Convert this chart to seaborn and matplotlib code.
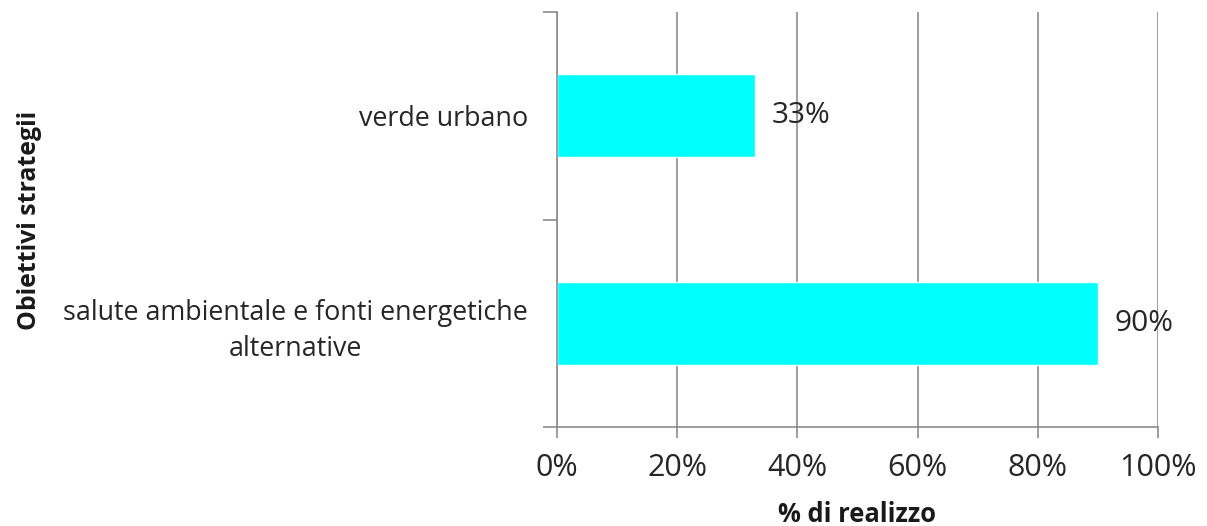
import matplotlib
matplotlib.use("Agg")
import matplotlib.pyplot as plt
from matplotlib.ticker import FixedLocator, PercentFormatter
import seaborn as sns
import pandas as pd

categories = ["verde urbano", "salute ambientale e fonti energetiche\nalternative"]
values = [33, 90]
x_ticks = [0, 20, 40, 60, 80, 100]

df = pd.DataFrame({"obiettivo": categories, "realizzo": values})

sns.set_style("white")
plt.rcParams["font.family"] = ["Open Sans", "DejaVu Sans"]

fig = plt.figure(figsize=(12.07, 5.26), dpi=100)
ax = fig.add_axes([557 / 1207, 1 - 427 / 526, 601 / 1207, 415 / 526])

sns.barplot(data=df, x="realizzo", y="obiettivo", orient="h", color="#00FFFF",
            saturation=1, width=0.4, ax=ax, zorder=2)

gray = "#8c8c8c"
txt = "#262626"
ax.set_xlim(0, 100)
ax.set_ylim(1.5, -0.5)
ax.set_xticks(x_ticks)
ax.xaxis.set_major_formatter(PercentFormatter(decimals=0))
ax.grid(axis="x", color=gray, linewidth=1.2, zorder=0)
ax.set_axisbelow(True)

# category labels without tick marks, tick marks at category borders
ax.yaxis.set_minor_locator(FixedLocator([-0.5, 0.5, 1.5]))
ax.tick_params(axis="y", which="major", left=True, length=0, pad=21, labelsize=19.4, labelcolor=txt)
ax.tick_params(axis="y", which="minor", left=True, length=10, color=gray, width=1.2, direction="out")
ax.tick_params(axis="x", bottom=True, length=8, color=gray, width=1.2, direction="out", pad=11,
               labelsize=22, labelcolor=txt)
for lbl in ax.get_yticklabels():
    lbl.set_multialignment("center")
    lbl.set_linespacing(1.4)

for s in ["top", "right"]:
    ax.spines[s].set_visible(False)
for s in ["left", "bottom"]:
    ax.spines[s].set_color(gray)
    ax.spines[s].set_linewidth(1.2)

for i, v in enumerate(values):
    ax.text(v + 2.8, i, f"{v}%", va="center", ha="left", fontsize=21.5, color=txt)

ax.set_xlabel("% di realizzo", fontsize=18.4, fontweight="bold", labelpad=13, color="#1a1a1a")
ax.set_ylabel("")
fig.text(30 / 1207, 1 - 220 / 526, "Obiettivi strategii", rotation=90, ha="center", va="center",
         fontsize=17.9, fontweight="bold", color="#1a1a1a")

fig.savefig("out.png", dpi=100)
